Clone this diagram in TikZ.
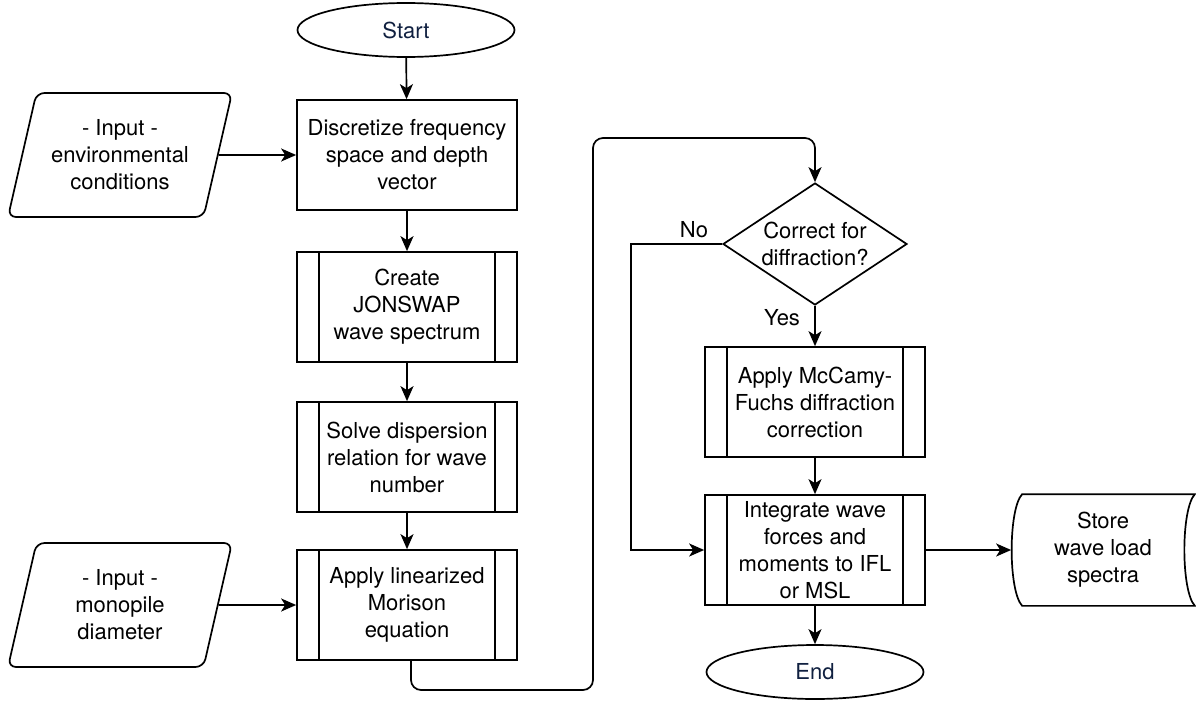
\documentclass[tikz,border=0pt]{standalone}
\usepackage{fontspec}
\setmainfont{TeX Gyre Heros}
\usetikzlibrary{shapes.geometric,arrows.meta,calc}
\definecolor{navy}{RGB}{16,32,64}
\begin{document}
\begin{tikzpicture}[x=1pt,y=-1pt,
  base/.style={font=\fontsize{22}{27}\selectfont, line width=1.7pt, inner sep=0pt, align=center},
  term/.style={base, draw, ellipse, minimum width=217pt, minimum height=54pt, text=navy},
  box/.style={base, draw, rectangle, minimum width=220pt, minimum height=110pt},
  sub/.style={box, path picture={
      \draw[line width=1.7pt] ([xshift=22pt]path picture bounding box.north west) -- ([xshift=22pt]path picture bounding box.south west);
      \draw[line width=1.7pt] ([xshift=-22pt]path picture bounding box.north east) -- ([xshift=-22pt]path picture bounding box.south east);}},
  io/.style={base, draw, trapezium, trapezium left angle=68, trapezium right angle=112, trapezium stretches body, minimum width=224pt, minimum height=124pt, rounded corners=8pt},
  dec/.style={base, draw, diamond, minimum width=184pt, minimum height=122pt},
  lbl/.style={base},
  arr/.style={line width=1.7pt, -{Stealth[length=15pt,width=13pt,inset=4pt]}}
]
\useasboundingbox (0,0) rectangle (1196,704);

\node[term] (start) at (406,30) {Start};
\node[box] (disc) at (407,155) {Discretize frequency\\space and depth\\vector};
\node[io] (env) at (120,155) {- Input -\\environmental\\conditions};
\node[sub] (jon) at (407,307) {Create\\JONSWAP\\wave spectrum};
\node[sub] (solve) at (407,457) {Solve dispersion\\relation for wave\\number};
\node[sub] (mor) at (407,605) {Apply linearized\\Morison\\equation};
\node[io] (mono) at (120,605) {- Input -\\monopile\\diameter};

\node[dec, label={[lbl]center:{Correct for\\diffraction?}}] (dec) at (815,244) {};
\node[sub] (mc) at (815,402) {Apply McCamy-\\Fuchs diffraction\\correction};
\node[sub] (int) at (815,550) {Integrate wave\\forces and\\moments to IFL\\or MSL};
\node[term] (end) at (815,672) {End};
\node[base, minimum width=182pt, minimum height=110pt] (store) at (1103,550) {Store\\wave load\\spectra};
\draw[line width=1.7pt] ($(store.north west)+(11,0)$) -- (store.north east)
  .. controls ($(store.north east)+(-14,15)$) and ($(store.south east)+(-14,-15)$) .. (store.south east)
  -- ($(store.south west)+(11,0)$)
  .. controls ($(store.south west)+(-3,-15)$) and ($(store.north west)+(-3,15)$) .. cycle;

\node[lbl] (no) at (694,230) {No};
\node[lbl] (yes) at (782,318) {Yes};

\coordinate (c1) at (593,690);
\coordinate (c2) at (593,138);
\coordinate (c3) at (631,400);

\draw[arr] (start) -- (disc);
\draw[arr] (env.east) -- (disc.west);
\draw[arr] (disc) -- (jon);
\draw[arr] (jon) -- (solve);
\draw[arr] (solve) -- (mor);
\draw[arr] (mono.east) -- (mor.west);
\draw[arr, rounded corners=10pt] ([xshift=4pt]mor.south) |- (c1) -- (c2) -| (dec.north);
\draw[arr] (dec.west) -| (c3) |- (int.west);
\draw[arr] (dec.south) -- (mc.north);
\draw[arr] (mc) -- (int);
\draw[arr] (int) -- (end);
\draw[arr] (int.east) -- (store.west);
\end{tikzpicture}
\end{document}
